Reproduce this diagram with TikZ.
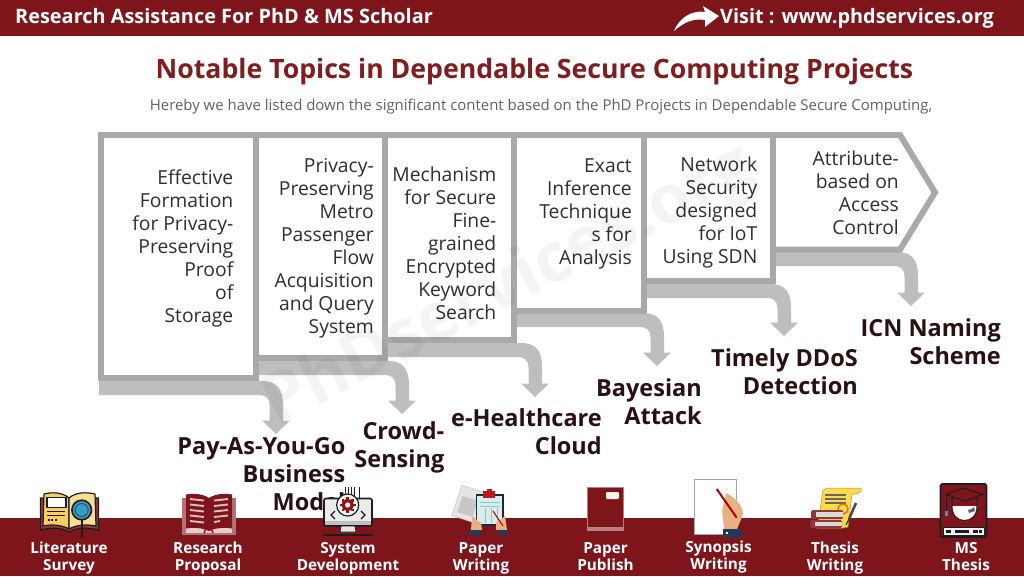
\documentclass[tikz,border=0pt]{standalone}
\usepackage{fontspec}
\setmainfont{Open Sans}
\definecolor{barred}{HTML}{7D151A}
\definecolor{titlered}{HTML}{7F1D1F}
\definecolor{frame}{HTML}{A9A9A9}
\definecolor{bendgray}{HTML}{BEBEBE}
\definecolor{labelink}{HTML}{2A1012}
\definecolor{bodyink}{HTML}{2E2E2E}
\definecolor{bookyel}{HTML}{F8CF63}
\definecolor{pageyel}{HTML}{FBDD95}
\definecolor{darkout}{HTML}{1D1D1F}
\definecolor{bookred}{HTML}{93353A}
\definecolor{skin}{HTML}{E8B183}
\definecolor{navy}{HTML}{1F3A5F}
\definecolor{glass}{HTML}{3A9AC4}
\newcommand{\fs}[1]{\fontsize{#1}{#1}\selectfont}
\tikzset{
  x=1pt,y=-1pt,
  boxtext/.style={anchor=east,align=right,text=bodyink,inner sep=0pt,font=\fontsize{19.3}{23}\selectfont},
  toplabel/.style={anchor=east,align=right,text=labelink,inner sep=0pt,font=\fontsize{23.5}{28}\selectfont\bfseries},
  iconlabel/.style={anchor=center,align=center,text=white,inner sep=0pt,font=\fontsize{15.3}{17}\selectfont\bfseries},
  panel/.style={fill=white,draw=frame,line width=6pt,line join=miter},
  ink/.style={draw=darkout,line width=1.2pt,line join=round}
}
% start x, top y, tip x, tip y
\newcommand{\bentarrow}[4]{%
  \fill[bendgray] (#1,#2) -- ({#3-14},#2)
    .. controls ({#3+1},#2) and ({#3+7},{#2+8}) .. ({#3+7},{#2+24})
    -- ({#3+7},{#4-13.5}) -- ({#3+14},{#4-13.5}) -- (#3,#4) -- ({#3-14},{#4-13.5}) -- ({#3-6.5},{#4-13.5})
    -- ({#3-6.5},{#2+24}) .. controls ({#3-6.5},{#2+17}) and ({#3-11},{#2+14}) .. ({#3-17},{#2+14})
    -- (#1,{#2+14}) -- cycle;}
\begin{document}
\begin{tikzpicture}
\useasboundingbox (0,0) rectangle (1024,576);
\fill[white] (0,0) rectangle (1024,576);
% bars
\fill[barred] (0,0) rectangle (1024,36);
\fill[barred] (0,518) rectangle (1024,576);
\node[anchor=west,text=white,inner sep=0pt,font=\fs{19.9}\bfseries] (headleft) at (15,16.5) {Research Assistance For PhD \& MS Scholar};
\node[anchor=west,text=white,inner sep=0pt,font=\fs{19.9}\bfseries] (headright) at (720,18) {Visit : www.phdservices.org};
\fill[white] (674,31) .. controls (680,16) and (694,10) .. (705,12) -- (703,6) -- (719,16) -- (705,27) -- (705,20) .. controls (694,18) and (684,22) .. (674,31) -- cycle;
\node[text=titlered,inner sep=0pt,font=\fs{26.65}\bfseries] (title) at (534.5,72) {Notable Topics in Dependable Secure Computing Projects};
\node[text=black!62,inner sep=0pt,font=\fs{14.95}] (subtitle) at (541,107) {Hereby we have listed down the significant content based on the PhD Projects in Dependable Secure Computing,};
% bent arrows
\bentarrow{99}{381}{276}{434}
\bentarrow{259}{361}{402}{414}
\bentarrow{388}{343}{535}{397}
\bentarrow{517}{313}{657}{366}
\bentarrow{646}{284}{784}{336}
\bentarrow{776}{252}{911}{306}
% panels, last first
\draw[panel] (772.7,135) -- (900,135) -- (935,192.5) -- (900,249.5) -- (772.7,249.5) -- cycle;
\draw[panel] (643.7,135) rectangle (772.5,281);
\draw[panel] (514,135) rectangle (643.5,310.5);
\draw[panel] (385,135) rectangle (514,340);
\draw[panel] (256,135) rectangle (385,358);
\draw[panel] (101,135) rectangle (256,378);
% panel texts
\node[boxtext] (p1) at (233.5,249) {\strut Effective\\Formation\\for Privacy-\\Preserving\\Proof\\of\\Storage\strut};
\node[boxtext] (p2) at (374,248.5) {\strut Privacy-\\Preserving\\Metro\\Passenger\\Flow\\Acquisition\\and Query\\System\strut};
\node[boxtext] (p3) at (496.5,246) {\strut Mechanism\\for Secure\\Fine-\\grained\\Encrypted\\Keyword\\Search\strut};
\node[boxtext] (p4) at (632,214) {\strut Exact\\Inference\\Technique\\s for\\Analysis\strut};
\node[boxtext] (p5) at (757.5,213) {\strut Network\\Security\\designed\\for IoT\\Using SDN\strut};
\node[boxtext] (p6) at (899,195.5) {\strut Attribute-\\based on\\Access\\Control\strut};
% labels
\node[toplabel] (l1) at (345.5,477) {\strut Pay-As-You-Go\\Business\\Model\strut};
\node[toplabel] (l2) at (444.5,448) {\strut Crowd-\\Sensing\strut};
\node[toplabel] (l3) at (602,435) {\strut e-Healthcare\\Cloud\strut};
\node[toplabel] (l4) at (702,405) {\strut Bayesian\\Attack\strut};
\node[toplabel] (l5) at (858,375) {\strut Timely DDoS\\Detection\strut};
\node[toplabel] (l6) at (1001,345) {\strut ICN Naming\\Scheme\strut};
% --- icons ---
% literature survey
\draw[ink,fill=bookred] (40.5,498) -- (40.5,530) .. controls (52,527) and (62,528) .. (69,532) .. controls (76,528) and (86,527) .. (98.5,530) -- (98.5,498) -- cycle;
\draw[ink,fill=bookyel] (69,498) .. controls (62,492) and (52,492) .. (44,494) -- (43,526) .. controls (52,524) and (62,525) .. (69,529) -- cycle;
\draw[ink,fill=pageyel] (69,498) .. controls (76,492) and (86,492) .. (95,494) -- (96,526) .. controls (86,524) and (76,525) .. (69,529) -- cycle;
\draw[ink,fill=white] (47,497.5) rectangle (66,507.5);
\foreach \yy in {511,515} \draw[darkout,line width=1pt] (47,\yy) -- (65,\yy);
\foreach \xx in {47.5,51,54.5} \fill[darkout] (\xx,518.5) rectangle ({\xx+2},520.5);
\draw[darkout,line width=2.6pt,line cap=round] (82,520) -- (82,537);
\draw[darkout,line width=1.6pt,fill=glass] (81.7,510) circle (9.8);
\draw[darkout!60!glass,line width=.9pt] (81.7,510) circle (6.5);
% research proposal
\fill[bookred!70!white] (182,498) rectangle (236,535);
\fill[bookred!25!white] (186,528) rectangle (232,533);
\draw[red!70!black,line width=1.4pt] (204,533) arc[start angle=180,end angle=360,radius=4.5];
\fill[barred] (186,494.5) .. controls (194,493) and (203,494) .. (209,498) .. controls (215,494) and (224,493) .. (232,494.5) -- (232,528.5) .. controls (224,527) and (215,528) .. (209,531) .. controls (203,528) and (194,527) .. (186,528.5) -- cycle;
\foreach \yy in {499,504.5,510,515.5,521} {\draw[white!72!barred,line width=1.9pt] (190,\yy) -- (204,{\yy+1.5});}
\foreach \yy in {499,504.5,510,515.5} {\draw[white!72!barred,line width=1.9pt] (214,{\yy+1.5}) -- (228,\yy);}
\draw[white!72!barred,line width=1.9pt] (214,522) -- (220,521);
% system development
\foreach \xx in {345,348,351} \draw[darkout,line width=.8pt] (\xx,487) -- (\xx,494);
\draw[darkout,line width=.9pt] (354,487) -- (354,498) (359,487) -- (359,498);
\draw[darkout,line width=1.6pt,rounded corners=2pt,fill=white!92!black] (324,498.5) rectangle (372,526);
\fill[black!25] (325,521) rectangle (371,525.2);
\fill[white!90!black,draw=darkout,line width=.8pt] (341,526) -- (355,526) -- (356,532) -- (340,532) -- cycle;
\draw[darkout,line width=2.2pt,line cap=round] (324,535) -- (372,535);
\draw[darkout,line width=1.1pt] (335,511) -- (331,515) -- (335,519) (361,511) -- (365,515) -- (361,519);
\draw[darkout,line width=1.2pt,fill=white] (347.7,505) circle (11);
\foreach \aa in {0,45,...,315} \fill[barred!80!red] ({347.7+6.8*cos(\aa)-1.3},{505+6.8*sin(\aa)-1.3}) rectangle ++(2.6,2.6);
\fill[barred!80!red] (347.7,505) circle (6);
\fill[white] (347.7,505) circle (2.6);
% paper writing
\fill[black!10,draw=black!25,line width=.5pt,rotate around={-18:(468,505)}] (456,488) rectangle (484,520);
\fill[black!22,rotate around={-18:(468,505)}] (460,498) rectangle (476,515);
\draw[navy!70!black,line width=1.5pt,fill=white!85!teal] (476.5,495) rectangle (503,525);
\fill[red!70!black!90!white] (483,491) rectangle (495,498);
\fill[red!70!black!90!white] (486.5,488.5) rectangle (491.5,492);
\foreach \yy in {502,506} \draw[teal!45,line width=1pt] (480,\yy) -- (500,\yy);
\foreach \xx in {485,491,497} \draw[teal!45,line width=.8pt] (\xx,508) -- (\xx,523);
\fill[skin] (472,516) -- (481,523) -- (482,530) -- (471,530) -- cycle;
\fill[skin] (505,516) -- (496,523) -- (496,530) -- (507,530) -- cycle;
\fill[navy] (470,530) rectangle (481,535);
\fill[navy] (497,530) rectangle (507,535);
\draw[red!70!black,line width=1.1pt] (493,511) -- (503,526);
% paper publish
\fill[barred] (587,487) rectangle (624,531);
\draw[white!45!barred,line width=.4pt] (587.6,487.6) rectangle (623.4,527);
\fill[white!45!barred] (587,527) rectangle (624,531);
\fill[white!90!orange,rounded corners=1.2pt] (606,492) rectangle (619,499);
% synopsis writing
\draw[black!35,line width=.7pt,fill=white] (694.5,479.5) rectangle (736.5,534.5);
\fill[skin] (726,493) .. controls (734,497) and (743,505) .. (743,514) -- (740,522) -- (737,529) -- (724,529) .. controls (724,520) and (720,512) .. (724,503) -- cycle;
\draw[red!70!black,line width=2pt] (716.7,489) -- (736.7,517.7);
\fill[navy] (723,529) rectangle (742,537);
\fill[white] (726,532) rectangle (728,534);
% thesis writing
\fill[bookyel!75!yellow,draw=bookyel!70!black,line width=.5pt] (823,490) .. controls (826,488) and (828,488) .. (832,488) -- (861,488) -- (861,491) .. controls (859,493) and (857,494) .. (855,494) -- (852,494) -- (848,527) -- (843,528) -- (817,528) -- (820,510) -- cycle;
\foreach \yy in {495,499,503} \draw[black!60,line width=1.1pt] (825,\yy) -- (846,\yy);
\draw[orange!90!black,line width=1.4pt] (843,509) circle (5);
\fill[bookred,rounded corners=1.5pt] (811,510) rectangle (843,519);
\fill[bookred,rounded corners=1.5pt] (810,520) rectangle (842,528);
\fill[white!85!black] (816,512) rectangle (843,517);
\fill[white!85!black] (815,522) rectangle (842,526);
\draw[black!70,line width=2.6pt] (856,503) -- (849,519);
\draw[darkout,line width=1pt] (849,519) -- (846,525);
% MS thesis
\draw[darkout,line width=1.6pt,fill=barred,rounded corners=1.5pt] (940.5,484) rectangle (986.5,537);
\fill[white!95!black,draw=darkout,line width=.6pt] (943,527) rectangle (984,535);
\foreach \xx/\ww in {946/5,955/14,973/5,979/3} \fill[darkout] (\xx,530) rectangle ({\xx+\ww},532.5);
\fill[white] (952,506) -- (977,506) .. controls (977,516) and (971,520.5) .. (964.5,520.5) .. controls (958,520.5) and (952,516) .. (952,506) -- cycle;
\draw[darkout,line width=1pt] (952,497) -- (952,506) .. controls (952,516) and (958,520.5) .. (964.5,520.5) .. controls (971,520.5) and (977,516) .. (977,506) -- (977,497);
\fill[darkout!70!white] (968,510) .. controls (971,510) and (973,508) .. (974,507) -- (975,511) -- (969,513) -- cycle;
\draw[darkout,line width=1pt,fill=barred] (964.5,488) -- (983,494.5) -- (964.5,501) -- (946,494.5) -- cycle;
\draw[darkout,line width=.8pt] (946,495) -- (946,511);
\fill[glass] (944.5,511) rectangle (947.5,516);
% icon labels
\node[iconlabel] (i1) at (69,559) {\strut Literature\\Survey\strut};
\node[iconlabel] (i2) at (208,559) {\strut Research\\Proposal\strut};
\node[iconlabel] (i3) at (348,559) {\strut System\\Development\strut};
\node[iconlabel] (i4) at (481,559) {\strut Paper\\Writing\strut};
\node[iconlabel] (i5) at (605.5,559) {\strut Paper\\Publish\strut};
\node[iconlabel] (i6) at (718.5,558) {\strut Synopsis\\Writing\strut};
\node[iconlabel] (i7) at (835,559) {\strut Thesis\\Writing\strut};
\node[iconlabel] (i8) at (966,559) {\strut MS\\Thesis\strut};
% watermark
\node[rotate=27,opacity=.045,text=black,inner sep=0pt,font=\fs{68}\bfseries] (wm) at (510,287) {PhDservices.org};
\end{tikzpicture}
\end{document}
